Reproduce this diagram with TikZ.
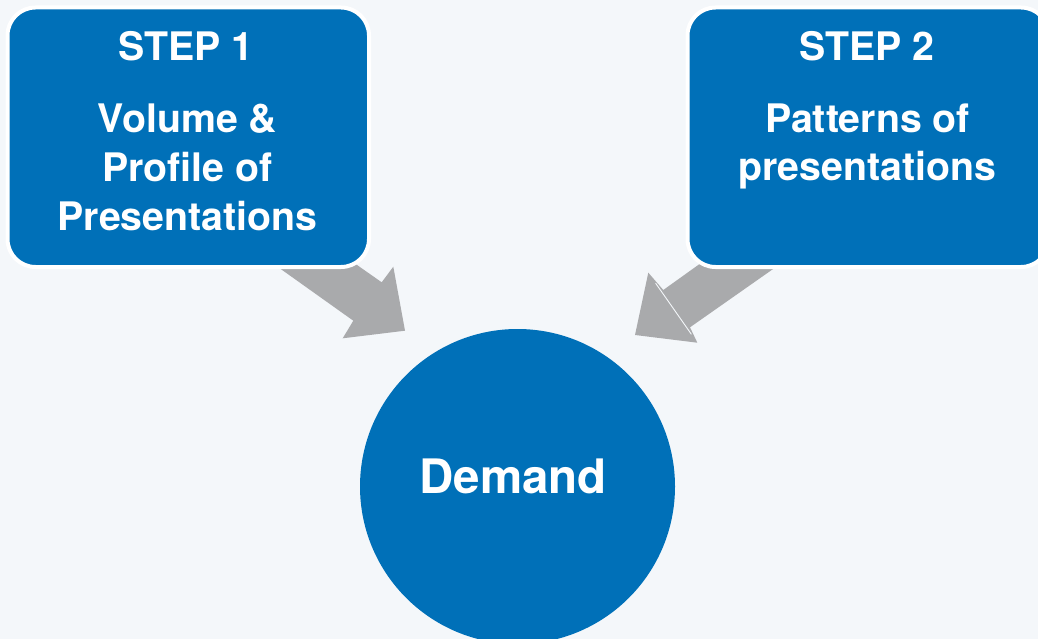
\documentclass[tikz,border=0pt]{standalone}
\usepackage{fontspec}
\setmainfont{TeX Gyre Heros}
\definecolor{bgc}{HTML}{F4F7FA}
\definecolor{bluec}{HTML}{0070B8}
\definecolor{grayc}{HTML}{A9AAAC}
\begin{document}
\begin{tikzpicture}[x=1pt,y=-1pt,
  stepbox/.style={draw=white, line width=4pt, fill=bluec, rounded corners=28pt,
    minimum width=361.5pt, minimum height=259.5pt, inner sep=0pt},
  bigtxt/.style={text=white, font=\bfseries\fontsize{39.3}{46}\selectfont, anchor=base, inner sep=0pt},
  demandtxt/.style={text=white, font=\bfseries\fontsize{47.5}{56}\selectfont, anchor=base, inner sep=0pt},
  blockarrow/.style={fill=grayc, draw=none}]
\fill[bgc] (0,0) rectangle (1038,639);
\useasboundingbox (0,0) rectangle (1038,639);
\begin{scope}
\clip (0,0) rectangle (1038,639);
% block arrows (drawn below boxes)
\fill[blockarrow] (300,225) -- (381.7,282.3) -- (393.3,266.7) -- (405,330.7)
  -- (342.7,338.3) -- (353.3,320.7) -- (240,240) -- cycle;
\fill[blockarrow] (768,215) -- (663.3,290) -- (648.3,272.7) -- (635,335)
  -- (697.3,342.7) -- (690,327.3) -- (820.7,235.6) -- cycle;
\draw[bgc, line width=0.9pt] (655.6,283.2) -- (691.4,334.3);
% boxes
\node[stepbox] (s1) at (188.25,137.25) {};
\node[stepbox] (s2) at (868.25,137.25) {};
% circle
\node[circle, fill=bluec, minimum size=315pt, inner sep=0pt] (dem) at (517.5,486.5) {};
\end{scope}
% texts
\node[bigtxt] (t1a) at (186,61) {STEP 1};
\node[bigtxt] (t1b) at (187.5,133) {Volume \&};
\node[bigtxt] (t1c) at (187.5,181.5) {Profile of};
\node[bigtxt] (t1d) at (187.5,230) {Presentations};
\node[bigtxt] (t2a) at (867,61) {STEP 2};
\node[bigtxt] (t2b) at (867.5,132.5) {Patterns of};
\node[bigtxt] (t2c) at (867.5,181) {presentations};
\node[demandtxt] (dt) at (513,493) {Demand};
\end{tikzpicture}
\end{document}
